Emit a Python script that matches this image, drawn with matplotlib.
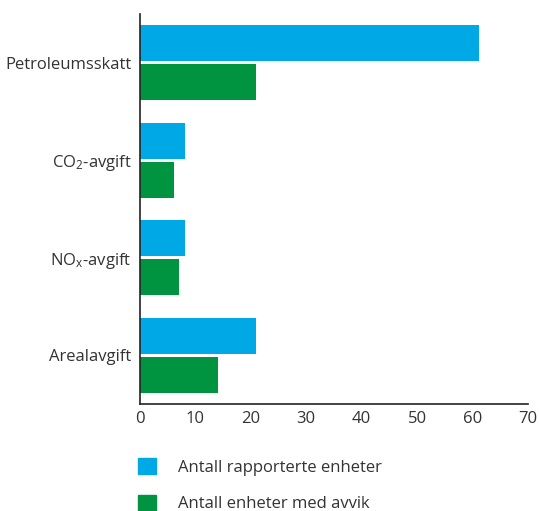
import numpy as np
import matplotlib.pyplot as plt
from matplotlib.patches import Patch

plt.rcParams['font.family'] = ['Open Sans', 'DejaVu Sans']
plt.rcParams['mathtext.fontset'] = 'custom'
plt.rcParams['mathtext.rm'] = 'Open Sans'
plt.rcParams['mathtext.it'] = 'Open Sans'

# data
categories = ['Petroleumsskatt', 'CO$_2$-avgift', 'NO$_\\mathrm{x}$-avgift', 'Arealavgift']
rapporterte = [61.2, 8.1, 8.1, 21]
avvik = [21, 6.1, 7, 14]
series_labels = ['Antall rapporterte enheter', 'Antall enheter med avvik']
xticks = [0, 10, 20, 30, 40, 50, 60, 70]

blue = '#00A9E6'
green = '#009440'
txt = '#333333'

fig = plt.figure(figsize=(5.39, 5.11), dpi=100)
ax = fig.add_axes([0.2597, 0.2094, 0.7199, 0.7632])

y = np.arange(len(categories))
h = 0.37
ax.barh(y - h / 2 - 0.015, rapporterte, height=h, color=blue)
ax.barh(y + h / 2 + 0.015, avvik, height=h, color=green)

ax.set_ylim(3.5, -0.5)
ax.set_xlim(0, 70)
ax.set_xticks(xticks)
ax.set_yticks(y)
ax.set_yticklabels(categories)
ax.tick_params(length=0, labelsize=12, labelcolor=txt)
ax.tick_params(axis='x', pad=5)
ax.tick_params(axis='y', pad=6)
for s in ['top', 'right']:
    ax.spines[s].set_visible(False)
for s in ['left', 'bottom']:
    ax.spines[s].set_color('#222222')
    ax.spines[s].set_linewidth(1.2)

handles = [Patch(color=blue), Patch(color=green)]
leg = fig.legend(handles, series_labels, loc='upper left', bbox_to_anchor=(0.256, 0.104),
                 frameon=False, fontsize=12, handlelength=1.1, handleheight=1.1,
                 handletextpad=1.3, labelspacing=1.15, borderpad=0, borderaxespad=0)
for t in leg.get_texts():
    t.set_color(txt)

fig.savefig('out.png', dpi=100)
